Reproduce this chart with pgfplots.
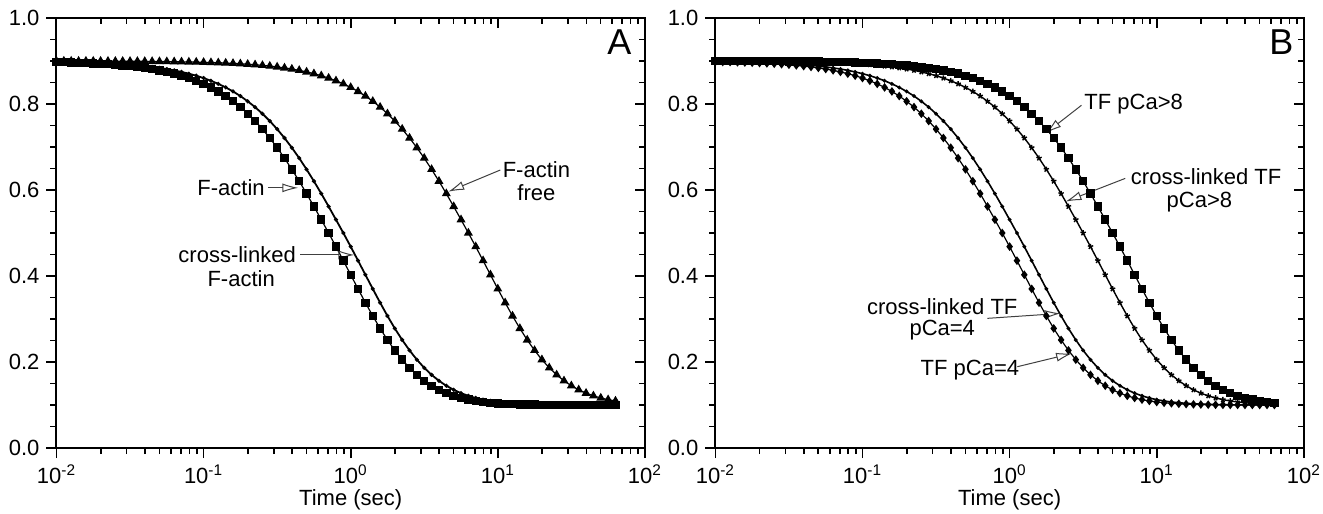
\documentclass[border=0pt]{standalone}
\usepackage{fontspec}
\setmainfont{Liberation Sans}
\usepackage{pgfplots}
\usepackage{pgfplotstable}
\pgfplotsset{compat=1.18}
\usetikzlibrary{arrows.meta}

% t (sec) and the normalised signal of each trace
% a: F-actin, b: cross-linked F-actin / TF pCa=4, c: F-actin free,
% d: TF pCa>8, e: cross-linked TF pCa>8, f: cross-linked TF pCa=4
\pgfplotstableread{
t a b c d e f
0.01 .8975 .8981 .8999 .8998 .8997 .8986
0.01122 .8970 .8978 .8999 .8998 .8996 .8984
0.01259 .8965 .8975 .8998 .8998 .8995 .8981
0.01413 .8960 .8970 .8998 .8997 .8995 .8978
0.01585 .8953 .8965 .8998 .8997 .8994 .8975
0.01778 .8945 .8960 .8997 .8996 .8993 .8970
0.01995 .8936 .8953 .8997 .8995 .8991 .8965
0.02239 .8925 .8945 .8996 .8995 .8990 .8960
0.02512 .8913 .8936 .8995 .8994 .8988 .8953
0.02818 .8898 .8925 .8995 .8993 .8986 .8945
0.03162 .8881 .8913 .8994 .8991 .8984 .8936
0.03548 .8862 .8898 .8993 .8990 .8981 .8925
0.03981 .8839 .8881 .8991 .8988 .8978 .8913
0.04467 .8813 .8862 .8990 .8986 .8975 .8898
0.05012 .8782 .8839 .8988 .8984 .8970 .8881
0.05623 .8746 .8813 .8986 .8981 .8965 .8862
0.06310 .8705 .8782 .8984 .8978 .8960 .8839
0.07079 .8658 .8746 .8981 .8975 .8953 .8813
0.07943 .8603 .8705 .8978 .8970 .8945 .8782
0.08913 .8540 .8658 .8975 .8965 .8936 .8746
0.1 .8468 .8603 .8970 .8960 .8925 .8705
0.1122 .8386 .8540 .8965 .8953 .8913 .8658
0.1259 .8292 .8468 .8960 .8945 .8898 .8603
0.1413 .8185 .8386 .8953 .8936 .8881 .8540
0.1585 .8063 .8292 .8945 .8925 .8862 .8468
0.1778 .7927 .8185 .8936 .8913 .8839 .8386
0.1995 .7774 .8063 .8925 .8898 .8813 .8292
0.2239 .7604 .7927 .8913 .8881 .8782 .8185
0.2512 .7416 .7774 .8898 .8862 .8746 .8063
0.2818 .7209 .7604 .8881 .8839 .8705 .7927
0.3162 .6984 .7416 .8862 .8813 .8658 .7774
0.3548 .6741 .7209 .8839 .8782 .8603 .7604
0.3981 .6480 .6984 .8813 .8746 .8540 .7416
0.4467 .6205 .6741 .8782 .8705 .8468 .7209
0.5012 .5916 .6480 .8746 .8658 .8386 .6984
0.5623 .5617 .6205 .8705 .8603 .8292 .6741
0.6310 .5310 .5916 .8658 .8540 .8185 .6480
0.7079 .5000 .5617 .8603 .8468 .8063 .6205
0.7943 .4683 .5310 .8540 .8386 .7927 .5916
0.8913 .4357 .5000 .8468 .8292 .7774 .5617
1 .4028 .4683 .8386 .8185 .7604 .5310
1.122 .3700 .4357 .8292 .8063 .7416 .5000
1.259 .3379 .4028 .8185 .7927 .7209 .4683
1.413 .3071 .3700 .8063 .7774 .6984 .4357
1.585 .2781 .3379 .7927 .7604 .6741 .4028
1.778 .2513 .3071 .7774 .7416 .6480 .3700
1.995 .2270 .2781 .7604 .7209 .6205 .3379
2.239 .2054 .2513 .7416 .6984 .5916 .3071
2.512 .1865 .2270 .7209 .6741 .5617 .2781
2.818 .1701 .2054 .6984 .6480 .5310 .2513
3.162 .1563 .1865 .6741 .6205 .5000 .2270
3.548 .1448 .1701 .6480 .5916 .4683 .2054
3.981 .1353 .1563 .6205 .5617 .4357 .1865
4.467 .1275 .1448 .5916 .5310 .4028 .1701
5.012 .1213 .1353 .5617 .5000 .3700 .1563
5.623 .1163 .1275 .5310 .4683 .3379 .1448
6.310 .1124 .1213 .5000 .4357 .3071 .1353
7.079 .1094 .1163 .4683 .4028 .2781 .1275
7.943 .1070 .1124 .4357 .3700 .2513 .1213
8.913 .1052 .1094 .4028 .3379 .2270 .1163
10 .1039 .1070 .3700 .3071 .2054 .1124
11.22 .1028 .1052 .3379 .2781 .1865 .1094
12.59 .1021 .1039 .3071 .2513 .1701 .1070
14.13 .1015 .1028 .2781 .2270 .1563 .1052
15.85 .1011 .1021 .2513 .2054 .1448 .1039
17.78 .1008 .1015 .2270 .1865 .1353 .1028
19.95 .1005 .1011 .2054 .1701 .1275 .1021
22.39 .1004 .1008 .1865 .1563 .1213 .1015
25.12 .1003 .1005 .1701 .1448 .1163 .1011
28.18 .1002 .1004 .1563 .1353 .1124 .1008
31.62 .1002 .1003 .1448 .1275 .1094 .1005
35.48 .1001 .1002 .1353 .1213 .1070 .1004
39.81 .1001 .1002 .1275 .1163 .1052 .1003
44.67 .1001 .1001 .1213 .1124 .1039 .1002
50.12 .1000 .1001 .1163 .1094 .1028 .1002
56.23 .1000 .1001 .1124 .1070 .1021 .1001
63.10 .1000 .1000 .1094 .1052 .1015 .1001
}\decay

\newcommand{\lbl}{\fontsize{11}{13}\selectfont}
\tikzset{
  annot/.style={draw=black!75, line width=0.5pt, -{Latex[open,length=8pt,width=4.5pt]}},
  txt/.style={font=\lbl, inner sep=1pt, align=center},
}

\begin{document}
\begin{tikzpicture}

% panel A
\begin{axis}[
  at={(0pt,0pt)}, anchor=south west,
  scale only axis, width=294.2pt, height=215pt,
  xmode=log, xmin=0.01, xmax=100, ymin=0, ymax=1,
  axis line style={line width=1pt},
  major tick length=5pt, minor tick length=3pt,
  tick style={black, line width=0.8pt},
  xtick={0.01,0.1,1,10,100}, ytick={0,0.2,0.4,0.6,0.8,1},
  minor y tick num=3,
  tick align=outside, xtick pos=left, ytick pos=left,
  xticklabels={10\textsuperscript{-2},10\textsuperscript{-1},10\textsuperscript{0},10\textsuperscript{1},10\textsuperscript{2}},
  yticklabels={0.0,0.2,0.4,0.6,0.8,1.0},
  tick label style={font=\lbl},
  xlabel={Time (sec)}, label style={font=\lbl},
  xlabel style={at={(axis description cs:0.5,0)}, anchor=center, yshift=-26pt},
]
  \addplot[black, line width=0.6pt, mark=square*, mark size=1.8pt] table[x=t, y=a] {\decay};
  \addplot[black, line width=0.9pt, mark=*, mark size=0.5pt] table[x=t, y=b] {\decay};
  \addplot[black, line width=0.6pt, mark=triangle*, mark size=2pt] table[x=t, y=c] {\decay};
  \node[txt, anchor=east] at (axis cs:0.27,0.605) {F-actin};
  \draw[annot] (axis cs:0.275,0.605) -- (axis cs:0.44,0.605);
  \node[txt, anchor=east] at (axis cs:0.44,0.449) {cross-linked};
  \node[txt] at (axis cs:0.18,0.393) {F-actin};
  \draw[annot] (axis cs:0.453,0.449) -- (axis cs:1.06,0.449);
  \node[txt] at (axis cs:18.3,0.6465) {F-actin};
  \node[txt] at (axis cs:18.3,0.593) {free};
  \draw[annot] (axis cs:10.4,0.6465) -- (axis cs:4.6,0.596);
  \node[font=\fontsize{18}{20}\selectfont] at (axis cs:67,0.944) {A};
\end{axis}
\begin{axis}[
  at={(0pt,0pt)}, anchor=south west,
  scale only axis, width=294.2pt, height=215pt,
  xmode=log, xmin=0.01, xmax=100, ymin=0, ymax=1,
  axis line style={line width=1pt},
  major tick length=5pt, minor tick length=3pt,
  tick style={black, line width=0.8pt},
  xtick={0.01,0.1,1,10,100}, ytick={0,0.2,0.4,0.6,0.8,1},
  minor y tick num=3,
  tick align=inside, xtick pos=right, ytick pos=right,
  xticklabels={}, yticklabels={},
]
\end{axis}

% panel B
\begin{axis}[
  at={(329.45pt,0pt)}, anchor=south west,
  scale only axis, width=294.2pt, height=215pt,
  xmode=log, xmin=0.01, xmax=100, ymin=0, ymax=1,
  axis line style={line width=1pt},
  major tick length=5pt, minor tick length=3pt,
  tick style={black, line width=0.8pt},
  xtick={0.01,0.1,1,10,100}, ytick={0,0.2,0.4,0.6,0.8,1},
  minor y tick num=3,
  tick align=outside, xtick pos=left, ytick pos=left,
  xticklabels={10\textsuperscript{-2},10\textsuperscript{-1},10\textsuperscript{0},10\textsuperscript{1},10\textsuperscript{2}},
  yticklabels={0.0,0.2,0.4,0.6,0.8,1.0},
  tick label style={font=\lbl},
  xlabel={Time (sec)}, label style={font=\lbl},
  xlabel style={at={(axis description cs:0.5,0)}, anchor=center, yshift=-26pt},
]
  \addplot[black, line width=0.6pt, mark=square*, mark size=1.8pt] table[x=t, y=d] {\decay};
  \addplot[black, line width=0.7pt, mark=star, mark size=1.4pt] table[x=t, y=e] {\decay};
  \addplot[black, line width=0.8pt, mark=*, mark size=0.5pt] table[x=t, y=f] {\decay};
  \addplot[black, line width=0.6pt, mark=diamond*, mark size=1.7pt] table[x=t, y=b] {\decay};
  \node[txt, anchor=west] at (axis cs:3.11,0.80) {TF pCa>8};
  \draw[annot] (axis cs:3.08,0.797) -- (axis cs:1.756,0.732);
  \node[txt, anchor=west] at (axis cs:6.44,0.631) {cross-linked TF};
  \node[txt] at (axis cs:19.5,0.573) {pCa>8};
  \draw[annot] (axis cs:6.11,0.627) -- (axis cs:2.40,0.573);
  \node[txt] at (axis cs:0.3485,0.3287) {cross-linked TF};
  \node[txt] at (axis cs:0.3485,0.274) {pCa=4};
  \draw[annot] (axis cs:0.706,0.3015) -- (axis cs:2.22,0.313);
  \node[txt] at (axis cs:0.5375,0.181) {TF pCa=4};
  \draw[annot] (axis cs:1.128,0.189) -- (axis cs:2.66,0.220);
  \node[font=\fontsize{18}{20}\selectfont] at (axis cs:70.5,0.944) {B};
\end{axis}
\begin{axis}[
  at={(329.45pt,0pt)}, anchor=south west,
  scale only axis, width=294.2pt, height=215pt,
  xmode=log, xmin=0.01, xmax=100, ymin=0, ymax=1,
  axis line style={line width=1pt},
  major tick length=5pt, minor tick length=3pt,
  tick style={black, line width=0.8pt},
  xtick={0.01,0.1,1,10,100}, ytick={0,0.2,0.4,0.6,0.8,1},
  minor y tick num=3,
  tick align=inside, xtick pos=right, ytick pos=right,
  xticklabels={}, yticklabels={},
]
\end{axis}

\pgfresetboundingbox
\path[use as bounding box] (-28.25pt,-33pt) rectangle (633.25pt,224pt);
\end{tikzpicture}
\end{document}
